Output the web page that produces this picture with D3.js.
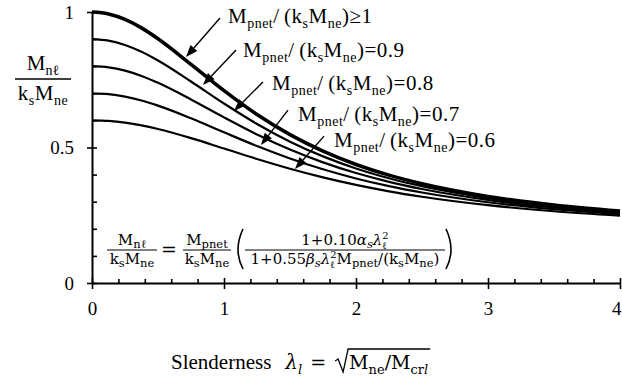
<!DOCTYPE html>
<html>
<head>
<meta charset="utf-8">
<script src="https://cdn.jsdelivr.net/npm/d3@7"></script>
<style>
  body { margin: 0; background: #fff; }
  svg { display: block; }
</style>
</head>
<body>
<script>
// slenderness values and the five curves
const lambdas = [0, 0.125, 0.25, 0.375, 0.5, 0.75, 1, 1.25, 1.5, 1.75, 2, 2.25, 2.5, 3, 3.5, 4];
const ratio100 = [1, 0.9930, 0.9728, 0.9413, 0.9011, 0.8067, 0.7097, 0.6218, 0.5475, 0.4866, 0.4375, 0.3980, 0.3662, 0.3193, 0.2876, 0.2653];
const ratio090 = [0.9, 0.8945, 0.8785, 0.8533, 0.8209, 0.7436, 0.6622, 0.5868, 0.5216, 0.4673, 0.4228, 0.3867, 0.3573, 0.3135, 0.2835, 0.2623];
const ratio080 = [0.8, 0.7958, 0.7835, 0.7640, 0.7387, 0.6774, 0.6111, 0.5481, 0.4925, 0.4452, 0.4058, 0.3734, 0.3467, 0.3065, 0.2786, 0.2587];
const ratio070 = [0.7, 0.6969, 0.6878, 0.6734, 0.6545, 0.6078, 0.5560, 0.5054, 0.4595, 0.4196, 0.3858, 0.3575, 0.3339, 0.2979, 0.2725, 0.2542];
const ratio060 = [0.6, 0.5979, 0.5916, 0.5815, 0.5681, 0.5345, 0.4962, 0.4577, 0.4218, 0.3898, 0.3621, 0.3384, 0.3184, 0.2872, 0.2647, 0.2484];
const seriesList = [ratio100, ratio090, ratio080, ratio070, ratio060];
const seriesLabels = ['\u22651', '=0.9', '=0.8', '=0.7', '=0.6'];

// label anchor, arrow tail and arrow tip, in chart units (lambda, ratio)
const labelAt = [[1.03, 0.959], [1.144, 0.834], [1.364, 0.712], [1.561, 0.598], [1.833, 0.502]];
const arrowTail = [[0.970, 0.978], [1.091, 0.860], [1.295, 0.742], [1.485, 0.638], [1.758, 0.542]];
const arrowTip = [[0.712, 0.834], [0.841, 0.731], [1.076, 0.635], [1.280, 0.509], [1.538, 0.421]];

const xTicks = [0, 1, 2, 3, 4];
const xMinor = [0.2, 0.4, 0.6, 0.8, 1.2, 1.4, 1.6, 1.8, 2.2, 2.4, 2.6, 2.8, 3.2, 3.4, 3.6, 3.8];
const yTicks = [0, 0.5, 1];
const yTickLabels = ['0', '0.5', '1'];
const yMinor = [0.1, 0.2, 0.3, 0.4, 0.6, 0.7, 0.8, 0.9];

const W = 622, H = 383;
const SERIF = "'DejaVu Serif', serif";
const TIMES = "'Liberation Serif', 'Times New Roman', serif";

const svg = d3.select('body').append('svg')
    .attr('width', W)
    .attr('height', H);

const x = d3.scaleLinear().domain([0, 4]).range([92, 620]);
const y = d3.scaleLinear().domain([0, 1]).range([283, 12]);

// draws a row of text pieces one after the other, returns width
function drawRuns(parent, runs, px, py, anchor) {
    const g = parent.append('g');
    let cx = 0;
    const add = (txt, dx, dy, r) => g.append('text')
        .attr('x', dx).attr('y', dy)
        .style('font-family', r.f || SERIF)
        .style('letter-spacing', r.ls ? r.ls + 'px' : null)
        .attr('font-size', r.s)
        .attr('font-style', r.it ? 'italic' : 'normal')
        .text(txt);
    runs.forEach(r => {
        if (r.stack) {
            const a = add(r.stack[0], cx, -r.up, r);
            const b = add(r.stack[1], cx, r.down, r);
            cx += Math.max(a.node().getComputedTextLength(), b.node().getComputedTextLength()) + (r.gap || 0);
        } else {
            const t = add(r.t, cx, r.dy || 0, r);
            cx += t.node().getComputedTextLength() + (r.gap || 0);
        }
    });
    const off = anchor === 'middle' ? -cx / 2 : 0;
    g.attr('transform', `translate(${px + off},${py})`);
    return cx;
}

// curves
const line = d3.line()
    .x(d => x(d[0]))
    .y(d => y(d[1]))
    .curve(d3.curveMonotoneX);

seriesList.forEach((vals, i) => {
    svg.append('path')
        .datum(lambdas.map((l, j) => [l, vals[j]]))
        .attr('fill', 'none')
        .attr('stroke', '#000')
        .attr('stroke-width', i === 0 ? 3.6 : 2.2)
        .attr('d', line);
});

// axes
const xAxisG = svg.append('g')
    .attr('transform', `translate(0,${y(0)})`)
    .call(d3.axisBottom(x).tickValues(xTicks).tickSize(6).tickSizeOuter(0).tickFormat(d3.format('d')));
const xMinorG = svg.append('g')
    .attr('transform', `translate(0,${y(0)})`)
    .call(d3.axisBottom(x).tickValues(xMinor).tickSize(-4).tickSizeOuter(0).tickFormat(''));
const yAxisG = svg.append('g')
    .attr('transform', `translate(${x(0)},0)`)
    .call(d3.axisLeft(y).tickValues(yTicks).tickSize(5).tickSizeOuter(0).tickFormat((d, i) => yTickLabels[i]));
const yMinorG = svg.append('g')
    .attr('transform', `translate(${x(0)},0)`)
    .call(d3.axisLeft(y).tickValues(yMinor).tickSize(-5).tickSizeOuter(0).tickFormat(''));

[xMinorG, yMinorG].forEach(g => g.select('.domain').remove());
[xAxisG, yAxisG].forEach(g => g.select('.domain').attr('stroke-width', 2));
svg.selectAll('.tick line').attr('stroke-width', 1.6);
xAxisG.selectAll('.tick line').attr('y1', -5).attr('y2', 6);
yAxisG.selectAll('.tick line').attr('x1', 5).attr('x2', -5);
xAxisG.selectAll('.tick text')
    .attr('y', 32).attr('dy', 0)
    .style('font-family', TIMES).attr('font-size', 19).attr('fill', '#000');
// the last label sits at the right edge, keep it inside the window
xAxisG.selectAll('.tick text').filter(d => d === 4).attr('text-anchor', 'end').attr('x', 1);
yAxisG.selectAll('.tick text')
    .attr('x', -18).attr('dy', '0.34em')
    .style('font-family', TIMES).attr('font-size', 19).attr('fill', '#000');

// arrows and labels
function arrow(t, h) {
    const dx = h[0] - t[0], dy = h[1] - t[1];
    const len = Math.hypot(dx, dy);
    const ux = dx / len, uy = dy / len;
    const hl = 12, hw = 4.5;
    const bx = h[0] - ux * hl, by = h[1] - uy * hl;
    svg.append('line')
        .attr('x1', t[0]).attr('y1', t[1]).attr('x2', bx).attr('y2', by)
        .attr('stroke', '#000').attr('stroke-width', 1.4);
    svg.append('path')
        .attr('d', `M${h[0]},${h[1]}L${bx - uy * hw},${by + ux * hw}L${bx + uy * hw},${by - ux * hw}Z`)
        .attr('fill', '#000');
}

seriesLabels.forEach((lab, i) => {
    arrow([x(arrowTail[i][0]), y(arrowTail[i][1])], [x(arrowTip[i][0]), y(arrowTip[i][1])]);
    drawRuns(svg, [
        { t: 'M', s: 21, f: TIMES, ls: 0.5 }, { t: 'pnet', s: 14, dy: 5, f: TIMES, ls: 0.5 },
        { t: '/', s: 21, f: TIMES, gap: 5 }, { t: '(k', s: 21, f: TIMES, ls: 0.5 },
        { t: 's', s: 14, dy: 5, f: TIMES, ls: 0.5 }, { t: 'M', s: 21, f: TIMES, ls: 0.5 },
        { t: 'ne', s: 14, dy: 5, f: TIMES, ls: 0.5 }, { t: ')' + lab, s: 21, f: TIMES, ls: 0.5 }
    ], x(labelAt[i][0]), y(labelAt[i][1]), 'start');
});

// y axis title as a fraction
const yt = svg.append('g');
drawRuns(yt, [{ t: 'M', s: 21, f: TIMES }, { t: 'n\u2113', s: 14, dy: 5, f: TIMES }], 43, 70, 'middle');
yt.append('line').attr('x1', 15).attr('x2', 71).attr('y1', 79).attr('y2', 79)
    .attr('stroke', '#000').attr('stroke-width', 1.3);
drawRuns(yt, [
    { t: 'k', s: 21, f: TIMES, ls: 0.5 }, { t: 's', s: 14, dy: 5, f: TIMES, ls: 0.5 },
    { t: 'M', s: 21, f: TIMES, ls: 0.5 }, { t: 'ne', s: 14, dy: 5, f: TIMES, ls: 0.5 }
], 43, 100, 'middle');

// formula
const fm = svg.append('g');
const FS = 15, FSS = 11.5, BAR = 250;
function frac(cx, num, den, bw) {
    drawRuns(fm, num, cx, BAR - 5, 'middle');
    const wd = drawRuns(fm, den, cx, BAR + 14, 'middle');
    const half = (bw || wd + 4) / 2;
    fm.append('line').attr('x1', cx - half).attr('x2', cx + half).attr('y1', BAR).attr('y2', BAR)
        .attr('stroke', '#000').attr('stroke-width', 1);
}
const ksMne = [{ t: 'k', s: FS }, { t: 's', s: FSS, dy: 3 }, { t: 'M', s: FS }, { t: 'ne', s: FSS, dy: 3 }];
frac(132, [{ t: 'M', s: FS }, { t: 'n\u2113', s: FSS, dy: 3 }], ksMne, 50);
drawRuns(fm, [{ t: '=', s: 19 }], 169, BAR + 6, 'middle');
frac(207, [{ t: 'M', s: FS }, { t: 'pnet', s: FSS, dy: 3 }], ksMne, 48);
frac(345, [
    { t: '1+0.10', s: FS }, { t: '\u03b1', s: FS, it: 1 }, { t: 's', s: FSS, dy: 3, it: 1 },
    { t: '\u03bb', s: FS, it: 1 }, { stack: ['2', '\u2113'], s: 10, up: 6, down: 4 }
], [
    { t: '1+0.55', s: FS }, { t: '\u03b2', s: FS, it: 1 }, { t: 's', s: FSS, dy: 3, it: 1 },
    { t: '\u03bb', s: FS, it: 1 }, { stack: ['2', '\u2113'], s: 10, up: 6, down: 4 },
    { t: 'M', s: FS }, { t: 'pnet', s: FSS, dy: 3 }, { t: '/(k', s: FS }, { t: 's', s: FSS, dy: 3 },
    { t: 'M', s: FS }, { t: 'ne', s: FSS, dy: 3 }, { t: ')', s: FS }
], 200);
function paren(px, dir) {
    fm.append('path')
        .attr('d', `M${px + 5 * dir},${BAR - 21} Q${px - 5 * dir},${BAR} ${px + 5 * dir},${BAR + 19}`)
        .attr('fill', 'none').attr('stroke', '#000').attr('stroke-width', 1.6);
}
paren(238, 1);
paren(451, -1);

// x axis title
const xt = svg.append('g');
const x0 = 171, xb = 369;
const w1 = drawRuns(xt, [
    { t: 'Slenderness', s: 21, f: TIMES, gap: 14 },
    { t: '\u03bb', s: 20, it: 1 }, { t: 'l', s: 13, dy: 5, it: 1, gap: 8 },
    { t: '=', s: 19, gap: 9 }
], x0, xb, 'start');
const rx = x0 + w1;
const w2 = drawRuns(xt, [
    { t: 'M', s: 19 }, { t: 'ne', s: 13, dy: 5 }, { t: '/', s: 19 },
    { t: 'M', s: 19 }, { t: 'cr', s: 13, dy: 5 }, { t: 'l', s: 13, dy: 5, it: 1 }
], rx + 14, xb, 'start');
xt.append('path')
    .attr('d', `M${rx},${xb - 8} L${rx + 3},${xb - 10} L${rx + 8},${xb + 3} L${rx + 13},${xb - 20} L${rx + 16 + w2},${xb - 20}`)
    .attr('fill', 'none').attr('stroke', '#000').attr('stroke-width', 1.3);
</script>
</body>
</html>
